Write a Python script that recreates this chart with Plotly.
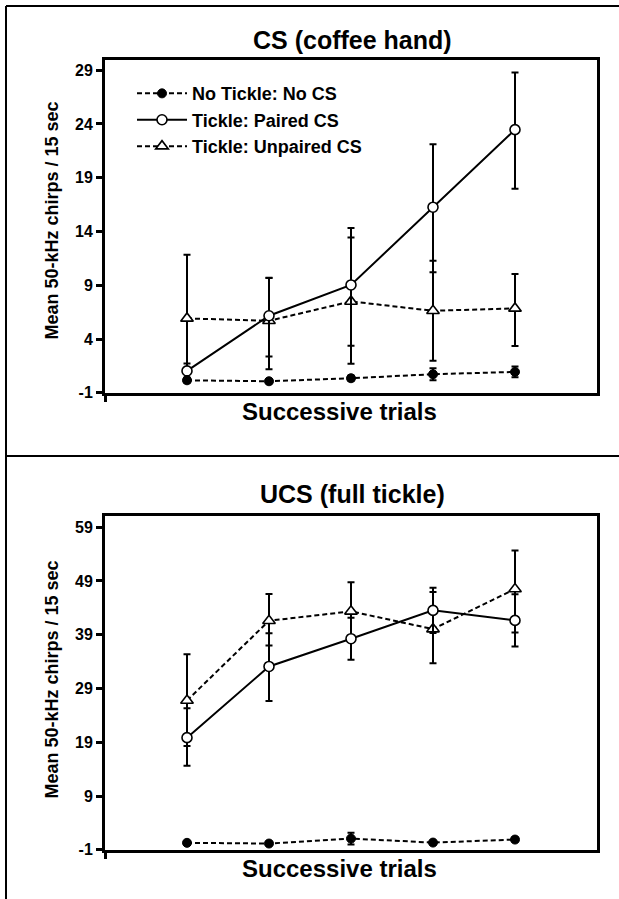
import plotly.graph_objects as go

W = 619
H_REF = 899   # reference picture height (coordinate system used for placement)
H_FIG = 910   # figure height that maps onto the captured picture

trials = [1, 2, 3, 4, 5]

# Top panel: CS (coffee hand)
cs_no = [0.17, 0.08, 0.36, 0.73, 0.95]
cs_no_err = [0.25, 0.2, 0.25, 0.55, 0.5]
cs_paired = [1.04, 6.17, 9.03, 16.26, 23.47]
cs_paired_plus = [0.7, 3.5, 5.3, 5.85, 5.3]
cs_paired_minus = [0.7, 3.8, 5.65, 6.05, 5.5]
cs_unpaired = [5.92, 5.7, 7.5, 6.63, 6.85]
cs_unpaired_plus = [5.93, 4.0, 5.95, 4.65, 3.2]
cs_unpaired_minus = [5.9, 4.5, 5.8, 4.65, 3.5]

# Bottom panel: UCS (full tickle)
ucs_no = [0.31, 0.18, 1.1, 0.36, 0.92]
ucs_no_err = [0.4, 0.3, 1.1, 0.4, 0.4]
ucs_paired = [19.87, 33.1, 38.26, 43.53, 41.67]
ucs_paired_plus = [5.46, 6.2, 3.9, 4.2, 4.84]
ucs_paired_minus = [5.22, 6.4, 3.9, 4.2, 4.84]
ucs_unpaired = [26.77, 41.6, 43.35, 40.05, 47.5]
ucs_unpaired_plus = [8.6, 4.98, 5.4, 6.9, 7.15]
ucs_unpaired_minus = [8.44, 4.6, 5.4, 6.35, 8.06]

series_names = ["No Tickle: No CS", "Tickle: Paired CS", "Tickle: Unpaired CS"]
top_ticks = [-1, 4, 9, 14, 19, 24, 29]
top_tick_text = ["-1", "4", "9", "14", "19", "24", "29"]
bottom_ticks = [-1, 9, 19, 29, 39, 49, 59]
bottom_tick_text = ["-1", "9", "19", "29", "39", "49", "59"]

FONT = "Arial, Liberation Sans, sans-serif"

def px_x(p):
    return p / W

def px_y(p):
    return 1 - p / H_REF

fig = go.Figure()

def add_panel(xa, ya, no, no_err, pa, pa_p, pa_m, un, un_p, un_m, show):
    eb = dict(color="black", thickness=2, width=3.5)
    fig.add_trace(go.Scatter(
        x=trials, y=un, name=series_names[2], xaxis=xa, yaxis=ya,
        mode="lines+markers", showlegend=show, legendrank=3,
        line=dict(color="black", width=2, dash="5px,3px"),
        marker=dict(symbol="triangle-up", size=11, color="white",
                    line=dict(color="black", width=1.6)),
        error_y=dict(type="data", symmetric=False, array=un_p, arrayminus=un_m, **eb)))
    fig.add_trace(go.Scatter(
        x=trials, y=pa, name=series_names[1], xaxis=xa, yaxis=ya,
        mode="lines+markers", showlegend=show, legendrank=2,
        line=dict(color="black", width=2),
        marker=dict(symbol="circle", size=10, color="white",
                    line=dict(color="black", width=1.6)),
        error_y=dict(type="data", symmetric=False, array=pa_p, arrayminus=pa_m, **eb)))
    fig.add_trace(go.Scatter(
        x=trials, y=no, name=series_names[0], xaxis=xa, yaxis=ya,
        mode="lines+markers", showlegend=show, legendrank=1,
        line=dict(color="black", width=2, dash="5px,3px"),
        marker=dict(symbol="circle", size=9, color="black",
                    line=dict(color="black", width=1)),
        error_y=dict(type="data", array=no_err, **eb)))

add_panel("x", "y", cs_no, cs_no_err, cs_paired, cs_paired_plus, cs_paired_minus,
          cs_unpaired, cs_unpaired_plus, cs_unpaired_minus, True)
add_panel("x2", "y2", ucs_no, ucs_no_err, ucs_paired, ucs_paired_plus, ucs_paired_minus,
          ucs_unpaired, ucs_unpaired_plus, ucs_unpaired_minus, False)

xdom = [px_x(105), px_x(597)]
axis_common = dict(showline=True, mirror=True, linewidth=3, linecolor="black",
                   showgrid=False, zeroline=False)
xcommon = dict(axis_common, range=[0, 6], tickvals=[0], ticktext=[""],
               ticks="outside", ticklen=6, tickwidth=3, tickcolor="black")
ycommon = dict(axis_common, ticks="outside", ticklen=6, tickwidth=3, tickcolor="black",
               tickfont=dict(family=FONT, size=16, color="black", weight="bold"))

fig.update_layout(
    width=W, height=H_FIG,
    margin=dict(l=0, r=0, t=0, b=0),
    paper_bgcolor="white", plot_bgcolor="white",
    font=dict(family=FONT, color="black"),
    xaxis=dict(xcommon, domain=xdom, anchor="y"),
    yaxis=dict(ycommon, domain=[px_y(392), px_y(60)], range=[-1, 29.93],
               tickvals=top_ticks, ticktext=top_tick_text, anchor="x"),
    xaxis2=dict(xcommon, domain=xdom, anchor="y2"),
    yaxis2=dict(ycommon, domain=[px_y(848), px_y(515)], range=[-1, 61.05],
                tickvals=bottom_ticks, ticktext=bottom_tick_text, anchor="x2"),
    legend=dict(x=px_x(132), y=px_y(75), xanchor="left", yanchor="top",
                bgcolor="rgba(0,0,0,0)", itemwidth=50, tracegroupgap=0,
                font=dict(family=FONT, size=18, color="black", weight="bold")),
    showlegend=True,
)

def ann(text, x, y, size, angle=0):
    fig.add_annotation(text=text, x=px_x(x), y=px_y(y), xref="paper", yref="paper",
                       showarrow=False, xanchor="center", yanchor="middle",
                       textangle=angle,
                       font=dict(family=FONT, size=size, color="black", weight="bold"))

ann("CS (coffee hand)", 352, 40, 25)
ann("UCS (full tickle)", 352, 493, 25)
ann("Successive trials", 340, 411, 24)
ann("Successive trials", 340, 867, 24)
ann("Mean 50-kHz chirps / 15 sec", 52, 220, 18, -90)
ann("Mean 50-kHz chirps / 15 sec", 52, 678, 18, -90)

# outer frame lines of the figure panel
for (x0, y0, x1, y1) in [(6, 6, 619, 6), (6, 6, 6, 899), (6, 455, 619, 455)]:
    fig.add_shape(type="line", xref="paper", yref="paper",
                  x0=px_x(x0), y0=px_y(y0), x1=px_x(x1), y1=px_y(y1),
                  line=dict(color="black", width=2))

fig.write_html("out.html", config={"displayModeBar": False},
               post_script="document.body.style.margin='0px';")
